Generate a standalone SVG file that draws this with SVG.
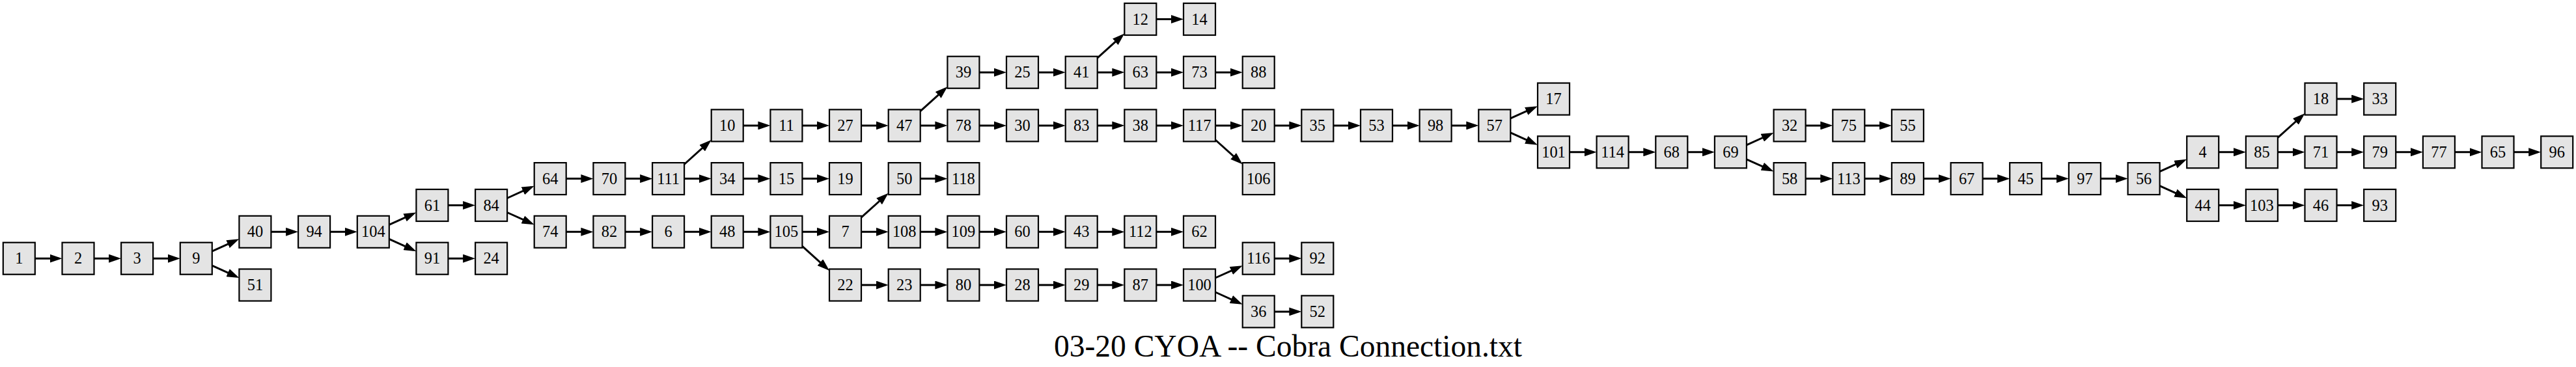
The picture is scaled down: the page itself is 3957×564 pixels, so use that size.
<svg xmlns="http://www.w3.org/2000/svg" width="3957" height="564" viewBox="0 0 3957 564">
<style>
.node rect{fill:#e4e4e4;stroke:#000;stroke-width:2.2}
.node text{font-family:"Liberation Serif","Times New Roman",serif;font-size:24.4px;text-anchor:middle;fill:#000}
.edges line{stroke:#000;stroke-width:3;fill:none;marker-end:url(#ah)}
.title{font-family:"Liberation Serif","Times New Roman",serif;font-size:47.5px;text-anchor:middle;fill:#000}
</style>
<defs>
<marker id="ah" markerUnits="userSpaceOnUse" viewBox="0 0 19 13" markerWidth="19" markerHeight="13" refX="14" refY="6.5" orient="auto"><path d="M0,0 L19,6.5 L0,13 Z" fill="#000"/></marker>
</defs>
<rect width="3957" height="564" fill="#fff"/>
<g id="edges" class="edges">
<line x1="53.8" y1="397.2" x2="90.5" y2="397.2"/>
<line x1="144.5" y1="397.2" x2="181.1" y2="397.2"/>
<line x1="235.1" y1="397.2" x2="271.8" y2="397.2"/>
<line x1="325.8" y1="386.2" x2="362.8" y2="369.4"/>
<line x1="325.8" y1="408.2" x2="362.8" y2="424.9"/>
<line x1="416.4" y1="356.3" x2="453.1" y2="356.3"/>
<line x1="507.1" y1="356.3" x2="543.8" y2="356.3"/>
<line x1="597.8" y1="345.3" x2="634.8" y2="328.6"/>
<line x1="597.8" y1="367.3" x2="634.8" y2="384.1"/>
<line x1="688.4" y1="315.5" x2="725.1" y2="315.5"/>
<line x1="688.4" y1="397.2" x2="725.1" y2="397.2"/>
<line x1="779.1" y1="304.5" x2="816.1" y2="287.7"/>
<line x1="779.1" y1="326.5" x2="816.1" y2="343.2"/>
<line x1="869.7" y1="274.6" x2="906.4" y2="274.6"/>
<line x1="869.7" y1="356.3" x2="906.4" y2="356.3"/>
<line x1="960.4" y1="274.6" x2="997.1" y2="274.6"/>
<line x1="960.4" y1="356.3" x2="997.1" y2="356.3"/>
<line x1="1051.1" y1="252.5" x2="1089.0" y2="218.3"/>
<line x1="1051.1" y1="274.6" x2="1087.7" y2="274.6"/>
<line x1="1051.1" y1="356.3" x2="1087.7" y2="356.3"/>
<line x1="1141.7" y1="192.9" x2="1178.4" y2="192.9"/>
<line x1="1141.7" y1="274.6" x2="1178.4" y2="274.6"/>
<line x1="1141.7" y1="356.3" x2="1178.4" y2="356.3"/>
<line x1="1232.4" y1="192.9" x2="1269.0" y2="192.9"/>
<line x1="1232.4" y1="274.6" x2="1269.0" y2="274.6"/>
<line x1="1232.4" y1="356.3" x2="1269.0" y2="356.3"/>
<line x1="1232.4" y1="378.4" x2="1270.3" y2="412.6"/>
<line x1="1323.0" y1="192.9" x2="1359.7" y2="192.9"/>
<line x1="1323.0" y1="334.2" x2="1361.0" y2="300.0"/>
<line x1="1323.0" y1="356.3" x2="1359.7" y2="356.3"/>
<line x1="1323.0" y1="438.0" x2="1359.7" y2="438.0"/>
<line x1="1413.7" y1="170.8" x2="1451.7" y2="136.6"/>
<line x1="1413.7" y1="192.9" x2="1450.4" y2="192.9"/>
<line x1="1413.7" y1="274.6" x2="1450.4" y2="274.6"/>
<line x1="1413.7" y1="356.3" x2="1450.4" y2="356.3"/>
<line x1="1413.7" y1="438.0" x2="1450.4" y2="438.0"/>
<line x1="1504.4" y1="111.2" x2="1541.0" y2="111.2"/>
<line x1="1504.4" y1="192.9" x2="1541.0" y2="192.9"/>
<line x1="1504.4" y1="356.3" x2="1541.0" y2="356.3"/>
<line x1="1504.4" y1="438.0" x2="1541.0" y2="438.0"/>
<line x1="1595.0" y1="111.2" x2="1631.7" y2="111.2"/>
<line x1="1595.0" y1="192.9" x2="1631.7" y2="192.9"/>
<line x1="1595.0" y1="356.3" x2="1631.7" y2="356.3"/>
<line x1="1595.0" y1="438.0" x2="1631.7" y2="438.0"/>
<line x1="1685.7" y1="89.1" x2="1723.6" y2="54.9"/>
<line x1="1685.7" y1="111.2" x2="1722.3" y2="111.2"/>
<line x1="1685.7" y1="192.9" x2="1722.3" y2="192.9"/>
<line x1="1685.7" y1="356.3" x2="1722.3" y2="356.3"/>
<line x1="1685.7" y1="438.0" x2="1722.3" y2="438.0"/>
<line x1="1776.3" y1="29.5" x2="1813.0" y2="29.5"/>
<line x1="1776.3" y1="111.2" x2="1813.0" y2="111.2"/>
<line x1="1776.3" y1="192.9" x2="1813.0" y2="192.9"/>
<line x1="1776.3" y1="356.3" x2="1813.0" y2="356.3"/>
<line x1="1776.3" y1="438.0" x2="1813.0" y2="438.0"/>
<line x1="1867.0" y1="111.2" x2="1903.7" y2="111.2"/>
<line x1="1867.0" y1="192.9" x2="1903.7" y2="192.9"/>
<line x1="1867.0" y1="215.0" x2="1905.0" y2="249.2"/>
<line x1="1867.0" y1="427.0" x2="1904.1" y2="410.3"/>
<line x1="1867.0" y1="449.0" x2="1904.1" y2="465.8"/>
<line x1="1957.7" y1="192.9" x2="1994.3" y2="192.9"/>
<line x1="1957.7" y1="397.2" x2="1994.3" y2="397.2"/>
<line x1="1957.7" y1="478.9" x2="1994.3" y2="478.9"/>
<line x1="2048.3" y1="192.9" x2="2085.0" y2="192.9"/>
<line x1="2139.0" y1="192.9" x2="2175.6" y2="192.9"/>
<line x1="2229.6" y1="192.9" x2="2266.3" y2="192.9"/>
<line x1="2320.3" y1="181.9" x2="2357.4" y2="165.2"/>
<line x1="2320.3" y1="203.9" x2="2357.4" y2="220.7"/>
<line x1="2411.0" y1="233.8" x2="2447.6" y2="233.8"/>
<line x1="2501.6" y1="233.8" x2="2538.3" y2="233.8"/>
<line x1="2592.3" y1="233.8" x2="2628.9" y2="233.8"/>
<line x1="2682.9" y1="222.8" x2="2720.0" y2="206.0"/>
<line x1="2682.9" y1="244.8" x2="2720.0" y2="261.5"/>
<line x1="2773.6" y1="192.9" x2="2810.3" y2="192.9"/>
<line x1="2773.6" y1="274.6" x2="2810.3" y2="274.6"/>
<line x1="2864.3" y1="192.9" x2="2900.9" y2="192.9"/>
<line x1="2864.3" y1="274.6" x2="2900.9" y2="274.6"/>
<line x1="2954.9" y1="274.6" x2="2991.6" y2="274.6"/>
<line x1="3045.6" y1="274.6" x2="3082.2" y2="274.6"/>
<line x1="3136.2" y1="274.6" x2="3172.9" y2="274.6"/>
<line x1="3226.9" y1="274.6" x2="3263.6" y2="274.6"/>
<line x1="3317.6" y1="263.6" x2="3354.6" y2="246.9"/>
<line x1="3317.6" y1="285.6" x2="3354.6" y2="302.4"/>
<line x1="3408.2" y1="233.8" x2="3444.9" y2="233.8"/>
<line x1="3408.2" y1="315.5" x2="3444.9" y2="315.5"/>
<line x1="3498.9" y1="211.7" x2="3536.8" y2="177.5"/>
<line x1="3498.9" y1="233.8" x2="3535.5" y2="233.8"/>
<line x1="3498.9" y1="315.5" x2="3535.5" y2="315.5"/>
<line x1="3589.5" y1="152.1" x2="3626.2" y2="152.1"/>
<line x1="3589.5" y1="233.8" x2="3626.2" y2="233.8"/>
<line x1="3589.5" y1="315.5" x2="3626.2" y2="315.5"/>
<line x1="3680.2" y1="233.8" x2="3716.9" y2="233.8"/>
<line x1="3770.9" y1="233.8" x2="3807.5" y2="233.8"/>
<line x1="3861.5" y1="233.8" x2="3898.2" y2="233.8"/>
</g>
<g id="n1" class="node" transform="translate(29.3,397.2)"><rect x="-24.5" y="-24.5" width="49" height="49"/><text y="8">1</text></g>
<g id="n2" class="node" transform="translate(120.0,397.2)"><rect x="-24.5" y="-24.5" width="49" height="49"/><text y="8">2</text></g>
<g id="n3" class="node" transform="translate(210.6,397.2)"><rect x="-24.5" y="-24.5" width="49" height="49"/><text y="8">3</text></g>
<g id="n9" class="node" transform="translate(301.3,397.2)"><rect x="-24.5" y="-24.5" width="49" height="49"/><text y="8">9</text></g>
<g id="n40" class="node" transform="translate(391.9,356.3)"><rect x="-24.5" y="-24.5" width="49" height="49"/><text y="8">40</text></g>
<g id="n51" class="node" transform="translate(391.9,438.0)"><rect x="-24.5" y="-24.5" width="49" height="49"/><text y="8">51</text></g>
<g id="n94" class="node" transform="translate(482.6,356.3)"><rect x="-24.5" y="-24.5" width="49" height="49"/><text y="8">94</text></g>
<g id="n104" class="node" transform="translate(573.3,356.3)"><rect x="-24.5" y="-24.5" width="49" height="49"/><text y="8">104</text></g>
<g id="n61" class="node" transform="translate(663.9,315.5)"><rect x="-24.5" y="-24.5" width="49" height="49"/><text y="8">61</text></g>
<g id="n91" class="node" transform="translate(663.9,397.2)"><rect x="-24.5" y="-24.5" width="49" height="49"/><text y="8">91</text></g>
<g id="n84" class="node" transform="translate(754.6,315.5)"><rect x="-24.5" y="-24.5" width="49" height="49"/><text y="8">84</text></g>
<g id="n24" class="node" transform="translate(754.6,397.2)"><rect x="-24.5" y="-24.5" width="49" height="49"/><text y="8">24</text></g>
<g id="n64" class="node" transform="translate(845.2,274.6)"><rect x="-24.5" y="-24.5" width="49" height="49"/><text y="8">64</text></g>
<g id="n74" class="node" transform="translate(845.2,356.3)"><rect x="-24.5" y="-24.5" width="49" height="49"/><text y="8">74</text></g>
<g id="n70" class="node" transform="translate(935.9,274.6)"><rect x="-24.5" y="-24.5" width="49" height="49"/><text y="8">70</text></g>
<g id="n82" class="node" transform="translate(935.9,356.3)"><rect x="-24.5" y="-24.5" width="49" height="49"/><text y="8">82</text></g>
<g id="n111" class="node" transform="translate(1026.6,274.6)"><rect x="-24.5" y="-24.5" width="49" height="49"/><text y="8">111</text></g>
<g id="n6" class="node" transform="translate(1026.6,356.3)"><rect x="-24.5" y="-24.5" width="49" height="49"/><text y="8">6</text></g>
<g id="n10" class="node" transform="translate(1117.2,192.9)"><rect x="-24.5" y="-24.5" width="49" height="49"/><text y="8">10</text></g>
<g id="n34" class="node" transform="translate(1117.2,274.6)"><rect x="-24.5" y="-24.5" width="49" height="49"/><text y="8">34</text></g>
<g id="n48" class="node" transform="translate(1117.2,356.3)"><rect x="-24.5" y="-24.5" width="49" height="49"/><text y="8">48</text></g>
<g id="n11" class="node" transform="translate(1207.9,192.9)"><rect x="-24.5" y="-24.5" width="49" height="49"/><text y="8">11</text></g>
<g id="n15" class="node" transform="translate(1207.9,274.6)"><rect x="-24.5" y="-24.5" width="49" height="49"/><text y="8">15</text></g>
<g id="n105" class="node" transform="translate(1207.9,356.3)"><rect x="-24.5" y="-24.5" width="49" height="49"/><text y="8">105</text></g>
<g id="n27" class="node" transform="translate(1298.5,192.9)"><rect x="-24.5" y="-24.5" width="49" height="49"/><text y="8">27</text></g>
<g id="n19" class="node" transform="translate(1298.5,274.6)"><rect x="-24.5" y="-24.5" width="49" height="49"/><text y="8">19</text></g>
<g id="n7" class="node" transform="translate(1298.5,356.3)"><rect x="-24.5" y="-24.5" width="49" height="49"/><text y="8">7</text></g>
<g id="n22" class="node" transform="translate(1298.5,438.0)"><rect x="-24.5" y="-24.5" width="49" height="49"/><text y="8">22</text></g>
<g id="n47" class="node" transform="translate(1389.2,192.9)"><rect x="-24.5" y="-24.5" width="49" height="49"/><text y="8">47</text></g>
<g id="n50" class="node" transform="translate(1389.2,274.6)"><rect x="-24.5" y="-24.5" width="49" height="49"/><text y="8">50</text></g>
<g id="n108" class="node" transform="translate(1389.2,356.3)"><rect x="-24.5" y="-24.5" width="49" height="49"/><text y="8">108</text></g>
<g id="n23" class="node" transform="translate(1389.2,438.0)"><rect x="-24.5" y="-24.5" width="49" height="49"/><text y="8">23</text></g>
<g id="n39" class="node" transform="translate(1479.9,111.2)"><rect x="-24.5" y="-24.5" width="49" height="49"/><text y="8">39</text></g>
<g id="n78" class="node" transform="translate(1479.9,192.9)"><rect x="-24.5" y="-24.5" width="49" height="49"/><text y="8">78</text></g>
<g id="n118" class="node" transform="translate(1479.9,274.6)"><rect x="-24.5" y="-24.5" width="49" height="49"/><text y="8">118</text></g>
<g id="n109" class="node" transform="translate(1479.9,356.3)"><rect x="-24.5" y="-24.5" width="49" height="49"/><text y="8">109</text></g>
<g id="n80" class="node" transform="translate(1479.9,438.0)"><rect x="-24.5" y="-24.5" width="49" height="49"/><text y="8">80</text></g>
<g id="n25" class="node" transform="translate(1570.5,111.2)"><rect x="-24.5" y="-24.5" width="49" height="49"/><text y="8">25</text></g>
<g id="n30" class="node" transform="translate(1570.5,192.9)"><rect x="-24.5" y="-24.5" width="49" height="49"/><text y="8">30</text></g>
<g id="n60" class="node" transform="translate(1570.5,356.3)"><rect x="-24.5" y="-24.5" width="49" height="49"/><text y="8">60</text></g>
<g id="n28" class="node" transform="translate(1570.5,438.0)"><rect x="-24.5" y="-24.5" width="49" height="49"/><text y="8">28</text></g>
<g id="n41" class="node" transform="translate(1661.2,111.2)"><rect x="-24.5" y="-24.5" width="49" height="49"/><text y="8">41</text></g>
<g id="n83" class="node" transform="translate(1661.2,192.9)"><rect x="-24.5" y="-24.5" width="49" height="49"/><text y="8">83</text></g>
<g id="n43" class="node" transform="translate(1661.2,356.3)"><rect x="-24.5" y="-24.5" width="49" height="49"/><text y="8">43</text></g>
<g id="n29" class="node" transform="translate(1661.2,438.0)"><rect x="-24.5" y="-24.5" width="49" height="49"/><text y="8">29</text></g>
<g id="n12" class="node" transform="translate(1751.8,29.5)"><rect x="-24.5" y="-24.5" width="49" height="49"/><text y="8">12</text></g>
<g id="n63" class="node" transform="translate(1751.8,111.2)"><rect x="-24.5" y="-24.5" width="49" height="49"/><text y="8">63</text></g>
<g id="n38" class="node" transform="translate(1751.8,192.9)"><rect x="-24.5" y="-24.5" width="49" height="49"/><text y="8">38</text></g>
<g id="n112" class="node" transform="translate(1751.8,356.3)"><rect x="-24.5" y="-24.5" width="49" height="49"/><text y="8">112</text></g>
<g id="n87" class="node" transform="translate(1751.8,438.0)"><rect x="-24.5" y="-24.5" width="49" height="49"/><text y="8">87</text></g>
<g id="n14" class="node" transform="translate(1842.5,29.5)"><rect x="-24.5" y="-24.5" width="49" height="49"/><text y="8">14</text></g>
<g id="n73" class="node" transform="translate(1842.5,111.2)"><rect x="-24.5" y="-24.5" width="49" height="49"/><text y="8">73</text></g>
<g id="n117" class="node" transform="translate(1842.5,192.9)"><rect x="-24.5" y="-24.5" width="49" height="49"/><text y="8">117</text></g>
<g id="n62" class="node" transform="translate(1842.5,356.3)"><rect x="-24.5" y="-24.5" width="49" height="49"/><text y="8">62</text></g>
<g id="n100" class="node" transform="translate(1842.5,438.0)"><rect x="-24.5" y="-24.5" width="49" height="49"/><text y="8">100</text></g>
<g id="n88" class="node" transform="translate(1933.2,111.2)"><rect x="-24.5" y="-24.5" width="49" height="49"/><text y="8">88</text></g>
<g id="n20" class="node" transform="translate(1933.2,192.9)"><rect x="-24.5" y="-24.5" width="49" height="49"/><text y="8">20</text></g>
<g id="n106" class="node" transform="translate(1933.2,274.6)"><rect x="-24.5" y="-24.5" width="49" height="49"/><text y="8">106</text></g>
<g id="n116" class="node" transform="translate(1933.2,397.2)"><rect x="-24.5" y="-24.5" width="49" height="49"/><text y="8">116</text></g>
<g id="n36" class="node" transform="translate(1933.2,478.9)"><rect x="-24.5" y="-24.5" width="49" height="49"/><text y="8">36</text></g>
<g id="n35" class="node" transform="translate(2023.8,192.9)"><rect x="-24.5" y="-24.5" width="49" height="49"/><text y="8">35</text></g>
<g id="n92" class="node" transform="translate(2023.8,397.2)"><rect x="-24.5" y="-24.5" width="49" height="49"/><text y="8">92</text></g>
<g id="n52" class="node" transform="translate(2023.8,478.9)"><rect x="-24.5" y="-24.5" width="49" height="49"/><text y="8">52</text></g>
<g id="n53" class="node" transform="translate(2114.5,192.9)"><rect x="-24.5" y="-24.5" width="49" height="49"/><text y="8">53</text></g>
<g id="n98" class="node" transform="translate(2205.1,192.9)"><rect x="-24.5" y="-24.5" width="49" height="49"/><text y="8">98</text></g>
<g id="n57" class="node" transform="translate(2295.8,192.9)"><rect x="-24.5" y="-24.5" width="49" height="49"/><text y="8">57</text></g>
<g id="n17" class="node" transform="translate(2386.5,152.1)"><rect x="-24.5" y="-24.5" width="49" height="49"/><text y="8">17</text></g>
<g id="n101" class="node" transform="translate(2386.5,233.8)"><rect x="-24.5" y="-24.5" width="49" height="49"/><text y="8">101</text></g>
<g id="n114" class="node" transform="translate(2477.1,233.8)"><rect x="-24.5" y="-24.5" width="49" height="49"/><text y="8">114</text></g>
<g id="n68" class="node" transform="translate(2567.8,233.8)"><rect x="-24.5" y="-24.5" width="49" height="49"/><text y="8">68</text></g>
<g id="n69" class="node" transform="translate(2658.4,233.8)"><rect x="-24.5" y="-24.5" width="49" height="49"/><text y="8">69</text></g>
<g id="n32" class="node" transform="translate(2749.1,192.9)"><rect x="-24.5" y="-24.5" width="49" height="49"/><text y="8">32</text></g>
<g id="n58" class="node" transform="translate(2749.1,274.6)"><rect x="-24.5" y="-24.5" width="49" height="49"/><text y="8">58</text></g>
<g id="n75" class="node" transform="translate(2839.8,192.9)"><rect x="-24.5" y="-24.5" width="49" height="49"/><text y="8">75</text></g>
<g id="n113" class="node" transform="translate(2839.8,274.6)"><rect x="-24.5" y="-24.5" width="49" height="49"/><text y="8">113</text></g>
<g id="n55" class="node" transform="translate(2930.4,192.9)"><rect x="-24.5" y="-24.5" width="49" height="49"/><text y="8">55</text></g>
<g id="n89" class="node" transform="translate(2930.4,274.6)"><rect x="-24.5" y="-24.5" width="49" height="49"/><text y="8">89</text></g>
<g id="n67" class="node" transform="translate(3021.1,274.6)"><rect x="-24.5" y="-24.5" width="49" height="49"/><text y="8">67</text></g>
<g id="n45" class="node" transform="translate(3111.7,274.6)"><rect x="-24.5" y="-24.5" width="49" height="49"/><text y="8">45</text></g>
<g id="n97" class="node" transform="translate(3202.4,274.6)"><rect x="-24.5" y="-24.5" width="49" height="49"/><text y="8">97</text></g>
<g id="n56" class="node" transform="translate(3293.1,274.6)"><rect x="-24.5" y="-24.5" width="49" height="49"/><text y="8">56</text></g>
<g id="n4" class="node" transform="translate(3383.7,233.8)"><rect x="-24.5" y="-24.5" width="49" height="49"/><text y="8">4</text></g>
<g id="n44" class="node" transform="translate(3383.7,315.5)"><rect x="-24.5" y="-24.5" width="49" height="49"/><text y="8">44</text></g>
<g id="n85" class="node" transform="translate(3474.4,233.8)"><rect x="-24.5" y="-24.5" width="49" height="49"/><text y="8">85</text></g>
<g id="n103" class="node" transform="translate(3474.4,315.5)"><rect x="-24.5" y="-24.5" width="49" height="49"/><text y="8">103</text></g>
<g id="n18" class="node" transform="translate(3565.0,152.1)"><rect x="-24.5" y="-24.5" width="49" height="49"/><text y="8">18</text></g>
<g id="n71" class="node" transform="translate(3565.0,233.8)"><rect x="-24.5" y="-24.5" width="49" height="49"/><text y="8">71</text></g>
<g id="n46" class="node" transform="translate(3565.0,315.5)"><rect x="-24.5" y="-24.5" width="49" height="49"/><text y="8">46</text></g>
<g id="n33" class="node" transform="translate(3655.7,152.1)"><rect x="-24.5" y="-24.5" width="49" height="49"/><text y="8">33</text></g>
<g id="n79" class="node" transform="translate(3655.7,233.8)"><rect x="-24.5" y="-24.5" width="49" height="49"/><text y="8">79</text></g>
<g id="n93" class="node" transform="translate(3655.7,315.5)"><rect x="-24.5" y="-24.5" width="49" height="49"/><text y="8">93</text></g>
<g id="n77" class="node" transform="translate(3746.4,233.8)"><rect x="-24.5" y="-24.5" width="49" height="49"/><text y="8">77</text></g>
<g id="n65" class="node" transform="translate(3837.0,233.8)"><rect x="-24.5" y="-24.5" width="49" height="49"/><text y="8">65</text></g>
<g id="n96" class="node" transform="translate(3927.7,233.8)"><rect x="-24.5" y="-24.5" width="49" height="49"/><text y="8">96</text></g>
<text id="title" class="title" x="1978.5" y="548">03-20 CYOA -- Cobra Connection.txt</text>
</svg>
